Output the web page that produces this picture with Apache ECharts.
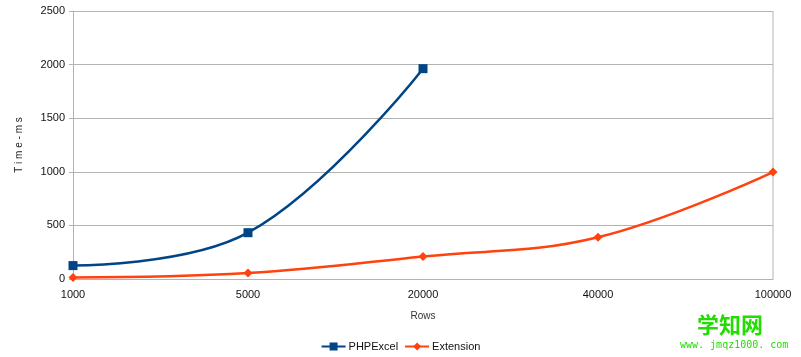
<!DOCTYPE html>
<html><head><meta charset="utf-8">
<script src="https://cdn.jsdelivr.net/npm/echarts@6/dist/echarts.min.js"></script>
<style>html,body{margin:0;padding:0;background:#fff}#c{width:801px;height:357px}</style>
</head><body><div id="c"></div>
<script>
const categories = ['1000','5000','20000','40000','100000'];
const phpExcel = [125, 432, 1962, null, null];
const extension = [15, 55, 210, 390, 998];
const yTicks = {min:0, max:2500, interval:500};

const chart = echarts.init(document.getElementById('c'));
chart.setOption({
  animation:false,
  backgroundColor:'#fff',
  grid:{left:73, right:28, top:11, bottom:78, containLabel:false},
  xAxis:{type:'category', data:categories, boundaryGap:false,
    name:'Rows', nameLocation:'middle', nameGap:32,
    nameTextStyle:{fontFamily:'Liberation Sans', fontSize:10, color:'#333'},
    axisLine:{show:true, lineStyle:{color:'#b3b3b3'}},
    axisTick:{show:false},
    axisLabel:{fontFamily:'Liberation Sans', fontSize:11, color:'#111', margin:10},
    splitLine:{show:false}},
  yAxis:{type:'value', min:yTicks.min, max:yTicks.max, interval:yTicks.interval,
    name:'T i m e - m s', nameLocation:'middle', nameGap:49, nameRotate:90,
    nameTextStyle:{fontFamily:'Liberation Sans', fontSize:10, color:'#222'},
    axisLine:{show:true, lineStyle:{color:'#b3b3b3'}},
    axisTick:{show:true, length:4, lineStyle:{color:'#b3b3b3'}},
    axisLabel:{fontFamily:'Liberation Sans', fontSize:11, color:'#111', margin:8, formatter:v=>String(v)},
    splitLine:{show:true, lineStyle:{color:'#b3b3b3', width:1}}},
  legend:{bottom:0, left:'center', itemGap:6, itemWidth:24, itemHeight:10,
    textStyle:{fontFamily:'Liberation Sans', fontSize:11, color:'#111', padding:[0,0,0,-2]},
    data:['PHPExcel','Extension']},
  series:[
    {name:'PHPExcel', type:'line', data:phpExcel, smooth:0.4, symbol:'rect', symbolSize:9,
      connectNulls:false, lineStyle:{color:'#004586', width:2.5}, itemStyle:{color:'#004586'}},
    {name:'Extension', type:'line', data:extension, smooth:0.4, symbol:'diamond', symbolSize:9,
      lineStyle:{color:'#ff420e', width:2.5}, itemStyle:{color:'#ff420e'}}
  ],
  graphic:[
    {type:'line', shape:{x1:773,y1:11,x2:773,y2:279}, style:{stroke:'#b3b3b3', lineWidth:1}},
    {type:'text', left:697, top:314, style:{text:'学知网', fill:'#22dd00', font:'bold 22px "Noto Sans CJK SC"'}},
    {type:'text', left:680, top:340, style:{text:'www. jmqz1000. com', fill:'#22dd00', font:'10px "DejaVu Sans Mono"'}}
  ]
});
</script></body></html>
